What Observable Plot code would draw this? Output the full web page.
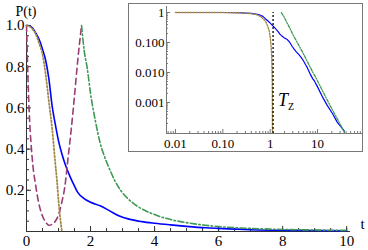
<!DOCTYPE html>
<html><head><meta charset="utf-8">
<script src="https://cdn.jsdelivr.net/npm/d3@7"></script>
<script src="https://cdn.jsdelivr.net/npm/@observablehq/plot@0.6"></script>
<style>
body{margin:0;background:#fff;}
#wrap{position:relative;width:368px;height:250px;overflow:hidden;background:#fff;}
#main{position:absolute;left:0;top:0;}
#inset{position:absolute;left:128px;top:3px;width:235px;height:149px;box-sizing:border-box;border:1px solid #777;background:#fff;}
#inset svg,#main svg{display:block;}
</style></head><body><div id="wrap"><div id="main"></div><div id="inset"></div></div>
<script>
// ---- data ----
const blueT = [0, 0.01, 0.05, 0.1, 0.2, 0.3, 0.4, 0.5, 0.6, 0.7, 0.8, 0.9, 1.0, 1.1, 1.2, 1.35, 1.5, 1.6, 1.8, 2.0, 2.3, 2.6, 2.9, 3.2, 3.6, 4.0, 4.5, 5.0, 5.6, 6.0, 7.0, 8.0, 8.5, 9.0, 10, 12.8, 16, 20.8, 26, 37];
const blueP = [1, 1, 1, 0.999, 0.985, 0.96, 0.93, 0.885, 0.83, 0.74, 0.61, 0.52, 0.44, 0.38, 0.33, 0.27, 0.22, 0.19, 0.16, 0.142, 0.125, 0.1, 0.075, 0.06, 0.048, 0.04, 0.032, 0.025, 0.018, 0.015, 0.0088, 0.006, 0.0054, 0.0045, 0.0033, 0.0015, 0.0008, 0.00042, 0.00022, 0.00011];

const magentaT = [0, 0.01, 0.03, 0.06, 0.1, 0.15, 0.2, 0.28, 0.38, 0.5, 0.6, 0.7, 0.8, 0.9, 1.0, 1.1, 1.2, 1.3, 1.4, 1.5, 1.6, 1.72];
const magentaP = [1, 0.95, 0.83, 0.68, 0.53, 0.41, 0.32, 0.23, 0.14, 0.075, 0.045, 0.03, 0.035, 0.05, 0.08, 0.14, 0.22, 0.36, 0.5, 0.66, 0.83, 1.0];

const goldT = [0, 0.01, 0.05, 0.1, 0.2, 0.3, 0.4, 0.5, 0.6, 0.7, 0.8, 0.9, 0.95, 1.0, 1.05, 1.08, 1.1, 1.11, 1.115];
const goldP = [1, 1, 0.999, 0.995, 0.98, 0.955, 0.91, 0.86, 0.76, 0.63, 0.5, 0.33, 0.25, 0.15, 0.07, 0.03, 0.008, 0.002, 0.0001];

const greenT = [1.72, 1.8, 1.9, 2.0, 2.16, 2.3, 2.47, 2.63, 2.78, 2.94, 3.1, 3.35, 3.6, 4.0, 4.5, 5.0, 5.5, 6.0, 7.0, 8.0, 9.0, 10, 13, 17, 22, 28, 37];
const greenP = [1.0, 0.88, 0.79, 0.67, 0.53, 0.43, 0.35, 0.29, 0.24, 0.2, 0.17, 0.135, 0.11, 0.082, 0.058, 0.043, 0.032, 0.024, 0.015, 0.01, 0.0072, 0.0052, 0.0023, 0.001, 0.00047, 0.00023, 0.0001];

const mainXTicks = [0, 2, 4, 6, 8, 10];
const mainYTicks = [0.2, 0.4, 0.6, 0.8, 1.0];
const insetXTicks = [0.01, 0.1, 1, 10];
const insetXLabels = ["0.01", "0.10", "1", "10"];
const insetYTicks = [1, 0.1, 0.01, 0.001];
const insetYLabels = ["1", "0.100", "0.010", "0.001"];
const tz = 1.15;
const tzLabelY = 0.0012;
const yLabel = "P(t)";
const xLabel = "t";

// ---- build tables ----
const rows = (ts, ps) => ts.map((t, i) => ({t, p: ps[i]}));
const blue = rows(blueT, blueP), magenta = rows(magentaT, magentaP), gold = rows(goldT, goldP), green = rows(greenT, greenP);

const serif = "'Liberation Serif','Times New Roman',serif";
const cBlue = "#0000ff", cMag = "#993d74", cGold = "#a08a45", cGreen = "#3d9953";
const axisC = "#333";

// ---- main plot ----
const W = 368, H = 250, mL = 26, mR = 18, mT = 25, mB = 19;
const pw = W - mL - mR, ph = H - mT - mB;
const xMax = 10.12;
const xMinor = d3.range(0, 10.01, 0.5);
const yMinor = d3.range(0.05, 1.001, 0.05);
const inMain = d => d.t <= 10;

const main = Plot.plot({
  width: W, height: H, marginLeft: mL, marginRight: mR, marginTop: mT, marginBottom: mB,
  x: {domain: [0, xMax], axis: null},
  y: {domain: [0, 1], axis: null},
  style: {fontFamily: serif, fontSize: "15px", background: "transparent", color: "#000", overflow: "visible"},
  marks: [
    Plot.ruleY([0], {x1: 0, x2: xMax, stroke: axisC}),
    Plot.ruleX([0], {y1: 0, y2: 1, stroke: axisC}),
    Plot.tickX(xMinor, {x: d => d, insetTop: ph - 3, stroke: axisC}),
    Plot.tickX(mainXTicks, {x: d => d, insetTop: ph - 5, stroke: axisC}),
    Plot.tickY(yMinor, {y: d => d, insetRight: pw - 3, stroke: axisC}),
    Plot.tickY(mainYTicks, {y: d => d, insetRight: pw - 5, stroke: axisC}),
    Plot.text(mainXTicks, {x: d => d, y: 0, dy: 10, text: d => String(d), fill: "#000"}),
    Plot.text(mainYTicks, {x: 0, y: d => d, dx: -2, textAnchor: "end", text: d => d.toFixed(1), fill: "#000"}),
    Plot.text([yLabel], {frameAnchor: "top-left", dx: -11, dy: -19, textAnchor: "start", fontSize: 14, text: d => d, fill: "#000"}),
    Plot.text([xLabel], {frameAnchor: "bottom-right", dx: 10, dy: -3, textAnchor: "start", text: d => d, fill: "#000"}),
    Plot.line(blue.filter(inMain), {x: "t", y: "p", stroke: cBlue, strokeWidth: 1.6, curve: "monotone-x"}),
    Plot.line(magenta, {x: "t", y: "p", stroke: cMag, strokeWidth: 1.6, strokeDasharray: "6,4", curve: "monotone-x"}),
    Plot.line(gold, {x: "t", y: "p", stroke: cGold, strokeWidth: 1.8, strokeDasharray: "1.5,2", curve: "monotone-x"}),
    Plot.line(green.filter(inMain), {x: "t", y: "p", stroke: cGreen, strokeWidth: 1.6, strokeDasharray: "6,2.5,1.5,2.5", curve: "monotone-x"})
  ]
});
document.getElementById("main").appendChild(main);

// ---- inset ----
const iW = 233, iH = 147, imL = 37, imR = 0, imT = 2, imB = 18;
const ipw = iW - imL - imR, iph = iH - imT - imB;
const ixMin = 0.00646, ixMax = 89, iyMin = 9.2e-5, iyMax = 1.585;
const ixMinor = [];
for (const dec of [0.001, 0.01, 0.1, 1, 10]) for (let k = 2; k <= 9; k++) { const v = dec * k; if (v > ixMin && v < ixMax) ixMinor.push(v); }
const iyMinor = [];
for (const dec of [0.0001, 0.001, 0.01, 0.1]) for (let k = 2; k <= 9; k++) { const v = dec * k; if (v > iyMin && v < iyMax) iyMinor.push(v); }
const iAxisC = "#777";

const inset = Plot.plot({
  width: iW, height: iH, marginLeft: imL, marginRight: imR, marginTop: imT, marginBottom: imB,
  x: {type: "log", domain: [ixMin, ixMax], axis: null},
  y: {type: "log", domain: [iyMin, iyMax], axis: null},
  style: {fontFamily: serif, fontSize: "13px", background: "transparent", color: "#000", overflow: "visible"},
  marks: [
    Plot.ruleY([iyMin], {stroke: iAxisC}),
    Plot.ruleX([ixMin], {stroke: iAxisC}),
    Plot.tickX(ixMinor, {x: d => d, insetTop: iph - 2, stroke: iAxisC}),
    Plot.tickX(insetXTicks, {x: d => d, insetTop: iph - 4, stroke: iAxisC}),
    Plot.tickY(iyMinor, {y: d => d, insetRight: ipw - 2, stroke: iAxisC}),
    Plot.tickY(insetYTicks, {y: d => d, insetRight: ipw - 4, stroke: iAxisC}),
    Plot.text(insetXTicks, {x: d => d, y: iyMin, dy: 10, text: (d, i) => insetXLabels[i], fill: "#000"}),
    Plot.text(insetYTicks, {x: ixMin, y: d => d, dx: -2, textAnchor: "end", text: (d, i) => insetYLabels[i], fill: "#000"}),
    Plot.line(blue.filter(d => d.t > 0), {x: "t", y: "p", stroke: cBlue, strokeWidth: 1.2}),
    Plot.line(gold.filter(d => d.t > 0), {x: "t", y: "p", stroke: cGold, strokeWidth: 1.4, strokeDasharray: "1.5,1.5"}),
    Plot.line(green, {x: "t", y: "p", stroke: cGreen, strokeWidth: 1.3, strokeDasharray: "3,1.5,1,1.5"}),
    Plot.ruleX([tz], {y1: iyMin, y2: 1, stroke: "#000", strokeWidth: 1.3, strokeDasharray: "2,2"}),
    Plot.text(["T"], {x: tz, y: tzLabelY, dx: 10, text: d => d, fontStyle: "italic", fontSize: 18, fill: "#000"}),
    Plot.text(["Z"], {x: tz, y: tzLabelY, dx: 18, dy: 7, text: d => d, fontSize: 10, fill: "#000"})
  ]
});
document.getElementById("inset").appendChild(inset);
</script>
</body></html>
